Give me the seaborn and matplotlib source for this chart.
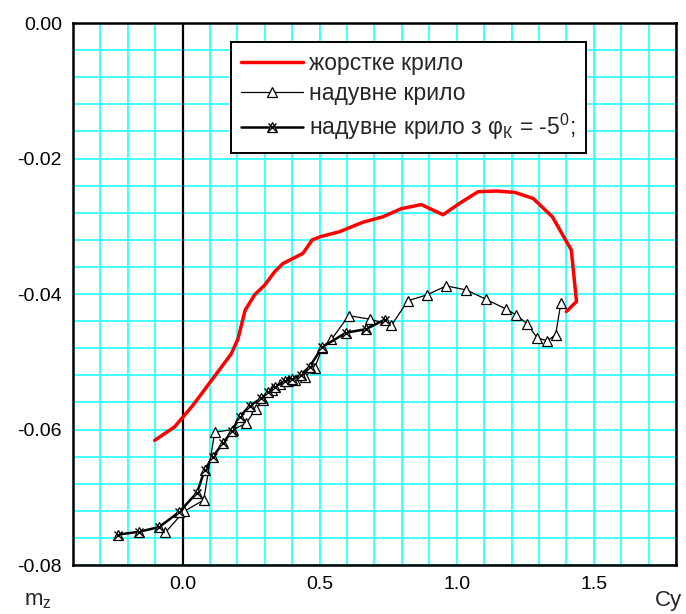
import numpy as np
import pandas as pd
import matplotlib
matplotlib.use("Agg")
import matplotlib.pyplot as plt
from matplotlib.lines import Line2D
from matplotlib.legend_handler import HandlerTuple
from matplotlib.ticker import MultipleLocator
import seaborn as sns

# -----------------------------
# Data
# -----------------------------
rigid_cy = [-0.102, -0.029, 0.038, 0.110, 0.178, 0.202, 0.228, 0.263, 0.299, 0.336,
            0.366, 0.439, 0.473, 0.506, 0.573, 0.658, 0.731, 0.798, 0.871, 0.950,
            1.011, 1.078, 1.145, 1.212, 1.279, 1.349, 1.418, 1.437, 1.400]
rigid_mz = [-0.0616, -0.0596, -0.0564, -0.0525, -0.0488, -0.0466, -0.0424, -0.0401, -0.0387, -0.0367,
            -0.0355, -0.0340, -0.0320, -0.0315, -0.0308, -0.0294, -0.0286, -0.0274, -0.0268, -0.0283,
            -0.0266, -0.0249, -0.0248, -0.0250, -0.0259, -0.0286, -0.0335, -0.0411, -0.0426]

infl_cy = [-0.063, 0.005, 0.077, 0.117, 0.184, 0.232, 0.266, 0.295, 0.325, 0.355,
           0.383, 0.409, 0.445, 0.482, 0.510, 0.543, 0.606, 0.682, 0.762, 0.822,
           0.893, 0.962, 1.035, 1.108, 1.179, 1.218, 1.257, 1.294, 1.331, 1.361, 1.380]
infl_mz = [-0.0752, -0.0721, -0.0704, -0.0604, -0.0600, -0.0591, -0.0570, -0.0556, -0.0542, -0.0533,
           -0.0528, -0.0527, -0.0522, -0.0509, -0.0479, -0.0467, -0.0432, -0.0437, -0.0446, -0.0410,
           -0.0401, -0.0388, -0.0394, -0.0408, -0.0422, -0.0431, -0.0444, -0.0465, -0.0469, -0.0460, -0.0413]

flap_cy = [-0.234, -0.159, -0.086, -0.013, 0.053, 0.080, 0.111, 0.147, 0.181, 0.208,
           0.245, 0.287, 0.312, 0.336, 0.372, 0.400, 0.432, 0.464, 0.510, 0.597,
           0.668, 0.737]
flap_mz = [-0.0755, -0.0751, -0.0744, -0.0722, -0.0693, -0.0660, -0.0640, -0.0620, -0.0602, -0.0581,
           -0.0565, -0.0554, -0.0545, -0.0537, -0.0529, -0.0525, -0.0519, -0.0507, -0.0478, -0.0457,
           -0.0452, -0.0438]

labels = ["жорстке крило",
          "надувне крило",
          r"надувне крило з φ$_\mathregular{К}$ = -5$^\mathregular{0}$;"]

xticks = [0.0, 0.5, 1.0, 1.5]
yticks = [0.00, -0.02, -0.04, -0.06, -0.08]

rigid = pd.DataFrame({"Cy": rigid_cy, "mz": rigid_mz})
infl = pd.DataFrame({"Cy": infl_cy, "mz": infl_mz})
flap = pd.DataFrame({"Cy": flap_cy, "mz": flap_mz})

# -----------------------------
# Plot
# -----------------------------
sns.set_theme(style="white")
plt.rcParams["font.family"] = ["Liberation Sans", "DejaVu Sans"]
plt.rcParams["mathtext.fontset"] = "custom"
plt.rcParams["mathtext.rm"] = "Liberation Sans"

fig = plt.figure(figsize=(6.86, 6.14), dpi=100)
ax = fig.add_axes([0.1064, 0.0798, 0.8790, 0.8827])

grid_col = "#33ffff"
ax.xaxis.set_minor_locator(MultipleLocator(0.1))
ax.yaxis.set_minor_locator(MultipleLocator(0.004))
ax.grid(which="both", color=grid_col, linewidth=1.3)
ax.set_axisbelow(True)

ax.axvline(0, color="black", linewidth=1.6, zorder=2)

mk = dict(marker="^", markersize=6.5, markerfacecolor="white",
          markeredgecolor="black", markeredgewidth=0.9)

sns.lineplot(data=rigid, x="Cy", y="mz", sort=False, estimator=None,
             color="red", linewidth=2.5, ax=ax, zorder=3)
sns.lineplot(data=infl, x="Cy", y="mz", sort=False, estimator=None,
             color="black", linewidth=0.9, ax=ax, zorder=4, **mk)
sns.lineplot(data=flap, x="Cy", y="mz", sort=False, estimator=None,
             color="black", linewidth=1.8, ax=ax, zorder=5, **mk)
ax.plot(flap["Cy"], flap["mz"], linestyle="none", marker="x", markersize=5.5,
        markeredgecolor="black", markeredgewidth=1.0, zorder=6)

ax.set_xlim(-0.4, 1.8)
ax.set_ylim(-0.08, 0.0)
ax.set_xticks(xticks)
ax.set_xticklabels([f"{v:.1f}" for v in xticks])
ax.set_yticks(yticks)
ax.set_yticklabels([f"{v:.2f}".replace("-0.00", "0.00") for v in yticks])
ax.tick_params(which="major", direction="out", length=4, width=1.4, colors="black",
               labelsize=14, pad=4)
ax.tick_params(which="minor", length=0)
ax.set_xlabel("")
ax.set_ylabel("")
for s in ax.spines.values():
    s.set_color("black")
    s.set_linewidth(1.8)

fig.text(0.035, 0.022, r"m$_\mathregular{z}$", fontsize=16, ha="left", va="center")
fig.text(0.975, 0.022, "Cy", fontsize=16, ha="center", va="center")

h1 = Line2D([], [], color="red", linewidth=2.5)
h2 = Line2D([], [], color="black", linewidth=0.9, **mk)
h3a = Line2D([], [], color="black", linewidth=1.8, **mk)
h3b = Line2D([], [], linestyle="none", marker="x", markersize=5.5,
             markeredgecolor="black", markeredgewidth=1.0)
leg = ax.legend([h1, h2, (h3a, h3b)], labels,
                handler_map={tuple: HandlerTuple(ndivide=1, pad=0)},
                loc="upper left", bbox_to_anchor=(0.262, 0.965),
                fontsize=16.5, handlelength=2.7, handletextpad=0.26,
                labelspacing=0.3, borderpad=0.45, borderaxespad=0,
                fancybox=False, framealpha=1, edgecolor="black")
leg.get_frame().set_linewidth(1.4)

fig.savefig("out.png", dpi=100)
